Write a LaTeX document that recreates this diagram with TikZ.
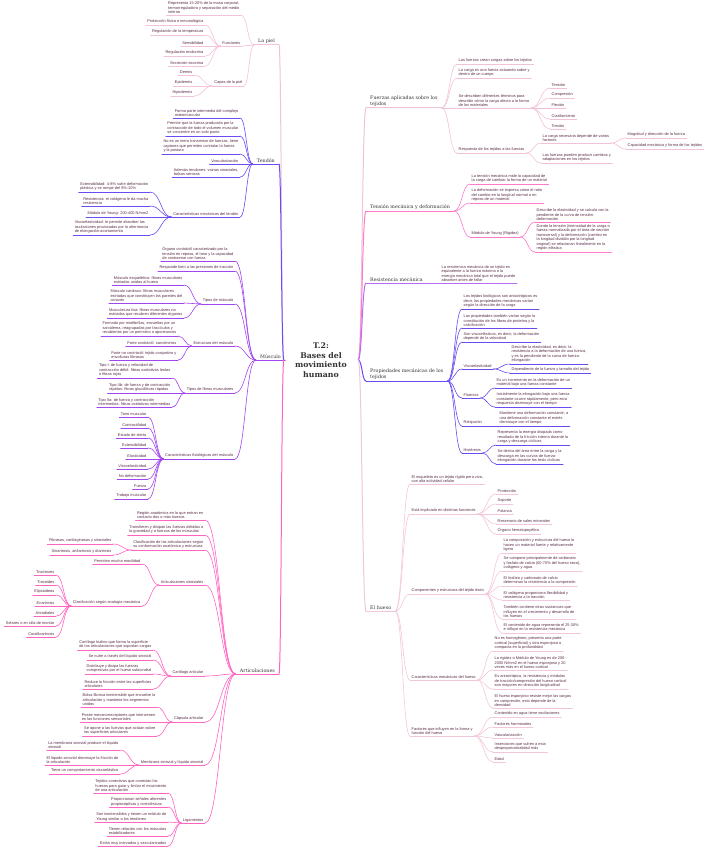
\documentclass[tikz,border=0pt]{standalone}
\usepackage{fontspec}
\setmainfont{Liberation Sans}
\newfontfamily\slabfont{DejaVu Serif}
\usetikzlibrary{calc}
\definecolor{cpiel}{HTML}{F2C1DA}
\definecolor{cten}{HTML}{6B4CF2}
\definecolor{cmus}{HTML}{A145F0}
\definecolor{cart}{HTML}{FF64C2}
\definecolor{cfue}{HTML}{F0C2D8}
\definecolor{ctm}{HTML}{FF7ACB}
\definecolor{cres}{HTML}{B570F2}
\definecolor{cpro}{HTML}{6A4BF0}
\definecolor{chue}{HTML}{F2C6DB}
\definecolor{txt}{HTML}{5A2C48}
\definecolor{tit}{HTML}{333333}
\newcommand{\hojafont}{\fontsize{3.9}{4.5}\selectfont}
\newcommand{\temafont}{\slabfont\fontsize{4.8}{5.8}\selectfont}
\newcommand{\raizfont}{\slabfont\bfseries\fontsize{7.8}{9.5}\selectfont}
\tikzset{
  lf/.style={font=\hojafont, text=txt, align=left, inner xsep=1.5pt, inner ysep=1pt},
  tm/.style={font=\temafont, text=tit, align=left, inner xsep=4pt, inner ysep=1.3pt},
  ul/.style={append after command={(\tikzlastnode.south west) edge[draw=#1, line width=.6pt] (\tikzlastnode.south east)}},
  ulb/.style={append after command={(\tikzlastnode.south west) edge[draw=#1, line width=1pt] (\tikzlastnode.south east)}},
  L/.style={lf, anchor=south east, ul=#1},
  R/.style={lf, anchor=south west, ul=#1},
  tL/.style={tm, anchor=south east, ulb=#1},
  tR/.style={tm, anchor=south west, ulb=#1},
  raiz/.style={font=\raizfont, text=tit, align=center, minimum width=74pt, inner sep=0pt},
  lk/.style={draw=#1, line width=.6pt, to path={let \p1=(\tikztostart), \p2=(\tikztotarget) in
    .. controls ({(\x1+\x2)/2},\y1) and ({(\x1+\x2)/2},\y2) .. (\tikztotarget)}},
  lkb/.style={lk=#1, line width=1pt}
}
\begin{document}
\begin{tikzpicture}[x=1pt, y=-1pt, line cap=round, line join=round]
\useasboundingbox (0,0) rectangle (709,848);
\node[raiz] (root) at (321,360) {T.2:\\Bases del\\movimiento\\humano};

% La piel
\node[tL=cpiel] (piel) at (279,45) {La piel};
\node[L=cpiel] (piel1) at (241,15) {Representa 15-20\% de la masa corporal,\\termorreguladora y separación del medio\\interno};
\node[L=cpiel] (piel2) at (242,46) {Funciones};
\node[L=cpiel] (piel3) at (244,86) {Capas de la piel};
\foreach \t/\y [count=\i] in {Protección física e inmunológica/25, Regulación de la temperatura/35, Sensibilidad/46, Regulación endocrina/56, Secreción exocrina/66}
  \node[L=cpiel] (fun\i) at (205,\y) {\t};
\foreach \t/\y [count=\i] in {Dermis/75, Epidermis/86, Hipodermis/96}
  \node[L=cpiel] (cap\i) at (194,\y) {\t};

% Tendon
\node[tL=cten] (ten) at (279,164) {Tendón};
\node[L=cten] (ten1) at (240,118) {Forma parte intermedia del complejo\\osteomuscular};
\node[L=cten] (ten2) at (240,136) {Permite que la fuerza producida por la\\contracción de todo el volumen muscular\\se concentre en un solo punto};
\node[L=cten] (ten3) at (240,154) {No es un mero transmisor de fuerzas, tiene\\captores que permiten controlar la fuerza\\y la postura};
\node[L=cten] (ten4) at (240,164) {Vascularización};
\node[L=cten] (ten5) at (240,177) {Además tendones: vainas sinoviales,\\bolsas serosas};
\node[L=cten] (ten6) at (240,217) {Características mecánicas del tendón};
\node[L=cten] (car1) at (150,192) {Extensibilidad: 4-8\% sufre deformación\\plástica y se rompe del 8\%-10\%};
\node[L=cten] (car2) at (150,206) {Resistencia: el colágeno le da mucha\\resistencia};
\node[L=cten] (car3) at (150,217) {Módulo de Young: 200-400 N/mm2};
\node[L=cten] (car4) at (150,235) {Viscoelasticidad: le permite absorber las\\oscilaciones provocadas por la alternancia\\de elongación-acortamiento};

% Musculo
\node[tL=cmus] (mus) at (285,360) {Músculo};
\node[L=cmus] (mus1) at (235,261) {Órgano contráctil caracterizado por la\\tensión en reposo, el tono y la capacidad\\de contraerse con fuerza};
\node[L=cmus] (mus2) at (235,271) {Responde bien a las presiones de tracción};
\node[L=cmus] (mus3) at (235,304) {Tipos de músculo};
\node[L=cmus] (mus4) at (235,346) {Estructura del músculo};
\node[L=cmus] (mus5) at (235,393) {Tipos de fibras musculares};
\node[L=cmus] (mus6) at (235,459) {Características fisiológicas del músculo};
\node[L=cmus] (tip1) at (184,285) {Músculo esquelético: fibras musculares\\estriadas unidas al hueso};
\node[L=cmus] (tip2) at (184,303) {Músculo cardiaco: fibras musculares\\estriadas que constituyen las paredes del\\corazón};
\node[L=cmus] (tip3) at (184,318) {Musculatura lisa: fibras musculares no\\estriadas que recubren diferentes órganos};
\node[L=cmus] (est1) at (178,336) {Formado por miofibrillas, envueltas por un\\sarcolema, reagrupadas por fascículos y\\recubiertos por un perimisio o aponeurosis};
\node[L=cmus] (est2) at (178,346) {Parte contráctil: sarcómeros};
\node[L=cmus] (est3) at (178,360) {Parte no contráctil: tejido conjuntivo y\\envolturas fibrosas};
\node[L=cmus] (fib1) at (172,378) {Tipo I: de fuerza y velocidad de\\contracción débil: fibras oxidativas lentas\\o fibras rojas};
\node[L=cmus] (fib2) at (172,393) {Tipo IIb: de fuerza y de contracción\\rápidas: fibras glucolíticas rápidas};
\node[L=cmus] (fib3) at (172,407) {Tipo IIa: de fuerza y contracción\\intermedias: fibras oxidativas intermedias};
\foreach \t/\y [count=\i] in {Tono muscular/417, Contractilidad/428, Estado de alerta/438, Extensibilidad/448, Elasticidad/459, Viscoelasticidad/469, No deformación/479, Fuerza/489, Trabajo muscular/499}
  \node[L=cmus] (fis\i) at (148,\y) {\t};

% Articulaciones
\node[tL=cart] (art) at (279,674) {Articulaciones};
\node[L=cart] (art1) at (205,520) {Región anatómica en la que entran en\\contacto dos o más huesos};
\node[L=cart] (art2) at (205,535) {Transfieren y disipan las fuerzas debidas a\\la gravedad y a fuerzas de los músculos};
\node[L=cart] (art3) at (205,550) {Clasificación de las articulaciones según\\su conformación anatómica y estructura};
\node[L=cart] (art4) at (205,585) {Articulaciones sinoviales};
\node[L=cart] (art5) at (205,676) {Cartílago articular};
\node[L=cart] (art6) at (205,722) {Cápsula articular};
\node[L=cart] (art7) at (205,765) {Membrana sinovial y líquido sinovial};
\node[L=cart] (art8) at (205,823) {Ligamentos};
\node[L=cart] (cla1) at (113,544) {Fibrosas, cartilaginosas y sinoviales};
\node[L=cart] (cla2) at (113,555) {Sinartrosis, anfiartrosis y diartrosis};
\node[L=cart] (sin1) at (142,564) {Permiten mucha movilidad};
\node[L=cart] (sin2) at (142,606) {Clasificación según analogía mecánica};
\foreach \t/\y [count=\i] in {Trocleares/575, Trocoides/585, Elipsoideas/595, Enartrosis/606, Artrodiales/616, Selares o en silla de montar/626, Condiloartrosis/637}
  \node[L=cart] (ana\i) at (56,\y) {\t};
\node[L=cart] (cta1) at (153,650) {Cartílago hialino que forma la superficie\\de las articulaciones que soportan cargas};
\node[L=cart] (cta2) at (153,660) {Se nutre a través del líquido sinovial};
\node[L=cart] (cta3) at (153,674) {Distribuye y disipa las fuerzas\\compresivas por el hueso subcondral};
\node[L=cart] (cta4) at (153,689) {Reduce la fricción entre las superficies\\articulares};
\node[L=cart] (cps1) at (157,707) {Bolsa fibrosa inextensible que envuelve la\\articulación y mantiene los segmentos\\unidos};
\node[L=cart] (cps2) at (157,722) {Posee mecanorreceptores que intervienen\\en las funciones sensoriales};
\node[L=cart] (cps3) at (157,736) {Se opone a las fuerzas que actúan sobre\\las superficies articulares};
\node[L=cart] (mem1) at (120,750) {La membrana sinovial produce el líquido\\sinovial};
\node[L=cart] (mem2) at (120,765) {El líquido sinovial disminuye la fricción de\\la articulación};
\node[L=cart] (mem3) at (120,774) {Tiene un comportamiento viscoelástico};
\node[L=cart] (lig1) at (168,793) {Tejidos conectivos que conectan los\\huesos para guiar y limitar el movimiento\\de una articulación};
\node[L=cart] (lig2) at (168,807) {Proporcionan señales aferentes\\propioceptivas y cinestésicas};
\node[L=cart] (lig3) at (168,822) {Son inextensibles y tienen un módulo de\\Young similar a los tendones};
\node[L=cart] (lig4) at (168,836) {Tienen relación con los músculos\\estabilizadores};
\node[L=cart] (lig5) at (168,846) {Están muy inervados y vascularizados};

% Fuerzas aplicadas
\node[tR=cfue] (fue) at (366,108) {Fuerzas aplicadas sobre los\\tejidos};
\node[R=cfue] (fue1) at (457,64) {Las fuerzas crean cargas sobre los tejidos};
\node[R=cfue] (fue2) at (457,78) {La carga es una fuerza actuando sobre y\\dentro de un cuerpo};
\node[R=cfue] (fue3) at (457,108) {Se describen diferentes términos para\\describir cómo la carga afecta a la forma\\de los materiales};
\node[R=cfue] (fue4) at (457,153) {Respuesta de los tejidos a las fuerzas};
\foreach \t/\y [count=\i] in {Tensión/88, Compresión/98, Flexión/108, Cizallamiento/119, Torsión/129}
  \node[R=cfue] (ter\i) at (550,\y) {\t};
\node[R=cfue] (res1) at (541,143) {La carga necesaria depende de varios\\factores};
\node[R=cfue] (res2) at (541,163) {Las fuerzas pueden producir cambios y\\adaptaciones en los tejidos};
\node[R=cfue] (fac1) at (626,138) {Magnitud y dirección de la fuerza};
\node[R=cfue] (fac2) at (626,149) {Capacidad mecánica y forma de los tejidos};

% Tension mecanica
\node[tR=ctm] (tm) at (366,211) {Tensión mecánica y deformación};
\node[R=ctm] (tm1) at (470,184) {La tensión mecánica mide la capacidad de\\la carga de cambiar la forma de un material};
\node[R=ctm] (tm2) at (470,203) {La deformación se expresa como el ratio\\del cambio en la longitud normal o en\\reposo de un material};
\node[R=ctm] (tm3) at (470,237) {Módulo de Young (Rigidez)};
\node[R=ctm] (you1) at (535,222) {Describe la elasticidad y se calcula con la\\pendiente de la curva de tensión-\\deformación};
\node[R=ctm] (you2) at (535,252) {Donde la tensión (intensidad de la carga o\\fuerza normalizada por el área de sección\\transversal) y la deformación (cambio en\\la longitud dividido por la longitud\\original) se relacionan linealmente en la\\región elástica};

% Resistencia
\node[tR=cres] (rm) at (366,283) {Resistencia mecánica};
\node[R=cres] (rm1) at (440,283) {La resistencia mecánica de un tejido es\\equivalente a la fuerza máxima o la\\energía mecánica total que el tejido puede\\absorber antes de fallar};

% Propiedades mecanicas
\node[tR=cpro] (pm) at (366,381) {Propiedades mecánicas de los\\tejidos};
\node[R=cpro] (pm1) at (462,309) {Los tejidos biológicos son anisotrópicos es\\decir, las propiedades mecánicas varían\\según la dirección de la carga};
\node[R=cpro] (pm2) at (462,328) {Las propiedades también varían según la\\constitución de las fibras de proteína y la\\calcificación};
\node[R=cpro] (pm3) at (462,342) {Son viscoelásticos, es decir, la deformación\\depende de la velocidad};
\node[R=cpro] (pm4) at (462,369) {Viscoelasticidad};
\node[R=cpro] (pm5) at (462,398) {Fluencia};
\node[R=cpro] (pm6) at (462,426) {Relajación};
\node[R=cpro] (pm7) at (462,453) {Histéresis};
\node[R=cpro] (vis1) at (510,364) {Describe la elasticidad, es decir, la\\resistencia a la deformación de una fuerza,\\y es la pendiente de la curva de fuerza-\\elongación};
\node[R=cpro] (vis2) at (510,373) {Dependiente de la fuerza y tamaño del tejido};
\node[R=cpro] (flu1) at (495,388) {Es un incremento en la deformación de un\\material bajo una fuerza constante};
\node[R=cpro] (flu2) at (495,407) {Inicialmente la elongación bajo una fuerza\\constante ocurre rápidamente, pero esta\\respuesta disminuye con el tiempo};
\node[R=cpro] (rel1) at (498,426) {Mantiene una deformación constante, a\\una deformación constante el estrés\\disminuye con el tiempo};
\node[R=cpro] (his1) at (496,445) {Representa la energía disipada como\\resultado de la fricción interna durante la\\carga y descarga cíclicas};
\node[R=cpro] (his2) at (496,464) {Se deriva del área entre la carga y la\\descarga en las curvas de fuerza-\\elongación durante los tests cíclicos};

% El hueso
\node[tR=chue] (hue) at (366,611) {El hueso};
\node[R=chue] (hue1) at (410,484) {El esqueleto es un tejido rígido pero vivo,\\con alta actividad celular};
\node[R=chue] (hue2) at (410,514) {Está implicado en distintas funciones};
\node[R=chue] (hue3) at (410,594) {Componentes y estructura del tejido óseo};
\node[R=chue] (hue4) at (410,680) {Características mecánicas del hueso};
\node[R=chue] (hue5) at (410,736) {Factores que influyen en la forma y\\función del hueso};
\foreach \t/\y [count=\i] in {Protección/494, Soporte/504, Palanca/514, Reservorio de sales minerales/524, Órgano hematopoyético/534}
  \node[R=chue] (fn\i) at (496,\y) {\t};
\node[R=chue] (com1) at (502,553) {La composición y estructura del hueso lo\\hacen un material fuerte y relativamente\\ligero};
\node[R=chue] (com2) at (502,571) {Se compone principalmente de carbonato\\y fosfato de calcio (60-70\% del hueso seco),\\colágeno y agua};
\node[R=chue] (com3) at (502,586) {El fosfato y carbonato de calcio\\determinan la resistencia a la compresión};
\node[R=chue] (com4) at (502,600) {El colágeno proporciona flexibilidad y\\resistencia a la tracción};
\node[R=chue] (com5) at (502,619) {También contiene otras sustancias que\\influyen en el crecimiento y desarrollo de\\los huesos};
\node[R=chue] (com6) at (502,633) {El contenido de agua representa el 25-30\%\\e influye en la resistencia mecánica};
\node[R=chue] (mec1) at (493,651) {No es homogéneo, presenta una parte\\cortical (superficial) y otra esponjosa o\\compacta en la profundidad};
\node[R=chue] (mec2) at (493,670) {La rigidez o Módulo de Young es de 200-\\2000 N/mm2 en el hueso esponjoso y 20\\veces más en el hueso cortical};
\node[R=chue] (mec3) at (493,689) {Es anisotrópico, la resistencia y módulos\\de tracción/compresión del hueso cortical\\son mayores en dirección longitudinal};
\node[R=chue] (mec4) at (493,708) {El hueso esponjoso resiste mejor las cargas\\en compresión, esto depende de la\\densidad};
\node[R=chue] (fhu1) at (493,717) {Contenido en agua tiene oscilaciones};
\node[R=chue] (fhu2) at (493,727) {Factores hormonales};
\node[R=chue] (fhu3) at (493,738) {Vascularización};
\node[R=chue] (fhu4) at (493,752) {Inserciones que sufren a esta\\desproporcionalidad más};
\node[R=chue] (fhu5) at (493,762) {Edad};

% ramas principales
\draw[lkb=cpiel] (root.west) to (piel.south east);
\draw[lkb=cten] (root.west) to (ten.south east);
\draw[lkb=cmus] (root.west) to (mus.south east);
\draw[lkb=cart] (root.west) to (art.south east);
\draw[lkb=cfue] (root.east) to (fue.south west);
\draw[lkb=ctm] (root.east) to (tm.south west);
\draw[lkb=cres] (root.east) to (rm.south west);
\draw[lkb=cpro] (root.east) to (pm.south west);
\draw[lkb=chue] (root.east) to (hue.south west);

% izquierda
\foreach \i in {1,2,3} \draw[lk=cpiel] (piel\i.south east) to (piel.south west);
\foreach \i in {1,...,5} \draw[lk=cpiel] (fun\i.south east) to (piel2.south west);
\foreach \i in {1,2,3} \draw[lk=cpiel] (cap\i.south east) to (piel3.south west);
\foreach \i in {1,...,6} \draw[lk=cten] (ten\i.south east) to (ten.south west);
\foreach \i in {1,...,4} \draw[lk=cten] (car\i.south east) to (ten6.south west);
\foreach \i in {1,...,6} \draw[lk=cmus] (mus\i.south east) to (mus.south west);
\foreach \i in {1,2,3} \draw[lk=cmus] (tip\i.south east) to (mus3.south west);
\foreach \i in {1,2,3} \draw[lk=cmus] (est\i.south east) to (mus4.south west);
\foreach \i in {1,2,3} \draw[lk=cmus] (fib\i.south east) to (mus5.south west);
\foreach \i in {1,...,9} \draw[lk=cmus] (fis\i.south east) to (mus6.south west);
\foreach \i in {1,...,8} \draw[lk=cart] (art\i.south east) to (art.south west);
\foreach \i in {1,2} \draw[lk=cart] (cla\i.south east) to (art3.south west);
\foreach \i in {1,2} \draw[lk=cart] (sin\i.south east) to (art4.south west);
\foreach \i in {1,...,7} \draw[lk=cart] (ana\i.south east) to (sin2.south west);
\foreach \i in {1,...,4} \draw[lk=cart] (cta\i.south east) to (art5.south west);
\foreach \i in {1,2,3} \draw[lk=cart] (cps\i.south east) to (art6.south west);
\foreach \i in {1,2,3} \draw[lk=cart] (mem\i.south east) to (art7.south west);
\foreach \i in {1,...,5} \draw[lk=cart] (lig\i.south east) to (art8.south west);

% derecha
\foreach \i in {1,...,4} \draw[lk=cfue] (fue.south east) to (fue\i.south west);
\foreach \i in {1,...,5} \draw[lk=cfue] (fue3.south east) to (ter\i.south west);
\foreach \i in {1,2} \draw[lk=cfue] (fue4.south east) to (res\i.south west);
\foreach \i in {1,2} \draw[lk=cfue] (res1.south east) to (fac\i.south west);
\foreach \i in {1,2,3} \draw[lk=ctm] (tm.south east) to (tm\i.south west);
\foreach \i in {1,2} \draw[lk=ctm] (tm3.south east) to (you\i.south west);
\draw[lk=cres] (rm.south east) to (rm1.south west);
\foreach \i in {1,...,7} \draw[lk=cpro] (pm.south east) to (pm\i.south west);
\foreach \i in {1,2} \draw[lk=cpro] (pm4.south east) to (vis\i.south west);
\foreach \i in {1,2} \draw[lk=cpro] (pm5.south east) to (flu\i.south west);
\draw[lk=cpro] (pm6.south east) to (rel1.south west);
\foreach \i in {1,2} \draw[lk=cpro] (pm7.south east) to (his\i.south west);
\foreach \i in {1,...,5} \draw[lk=chue] (hue.south east) to (hue\i.south west);
\foreach \i in {1,...,5} \draw[lk=chue] (hue2.south east) to (fn\i.south west);
\foreach \i in {1,...,6} \draw[lk=chue] (hue3.south east) to (com\i.south west);
\foreach \i in {1,...,4} \draw[lk=chue] (hue4.south east) to (mec\i.south west);
\foreach \i in {1,...,5} \draw[lk=chue] (hue5.south east) to (fhu\i.south west);
\end{tikzpicture}
\end{document}
